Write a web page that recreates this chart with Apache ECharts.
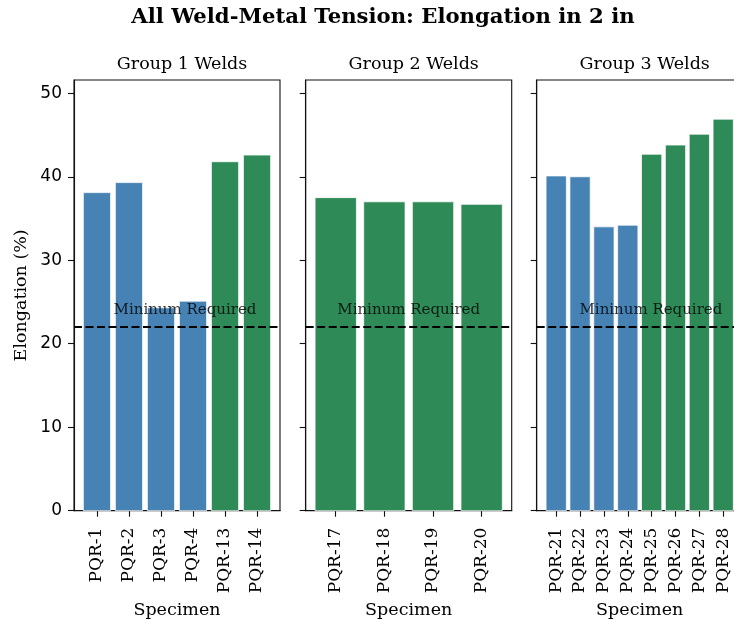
<!DOCTYPE html>
<html>
<head>
<meta charset="utf-8">
<script src="https://cdn.jsdelivr.net/npm/echarts@6/dist/echarts.min.js"></script>
<style>
  html, body { margin: 0; padding: 0; background: #fff; }
  #chart { width: 734px; height: 619px; }
</style>
</head>
<body>
<div id="chart"></div>
<script>
// ---- data: elongation in 2 in (%) for each weld specimen ----
const group1Specimens  = ['PQR-1', 'PQR-2', 'PQR-3', 'PQR-4', 'PQR-13', 'PQR-14'];
const group1Elongation = [38.1, 39.3, 24.3, 25.1, 41.8, 42.6];
const group1Class      = [0, 0, 0, 0, 1, 1];

const group2Specimens  = ['PQR-17', 'PQR-18', 'PQR-19', 'PQR-20'];
const group2Elongation = [37.5, 37.0, 37.0, 36.7];
const group2Class      = [1, 1, 1, 1];

const group3Specimens  = ['PQR-21', 'PQR-22', 'PQR-23', 'PQR-24', 'PQR-25', 'PQR-26', 'PQR-27', 'PQR-28'];
const group3Elongation = [40.1, 40.0, 34.0, 34.2, 42.7, 43.8, 45.1, 46.9];
const group3Class      = [0, 0, 0, 0, 1, 1, 1, 1];

const minimumRequired = 22;
const yTickValues = [0, 10, 20, 30, 40, 50];
const groupTitles = ['Group 1 Welds', 'Group 2 Welds', 'Group 3 Welds'];

// ---- styling / layout ----
const CLASS_COLORS = ['#4682B4', '#2E8B57'];
const SERIF = 'DejaVu Serif';
const SANS = 'DejaVu Sans';
const BAR_W = 0.85;
const PANEL_LEFT = [74, 305.7, 536.7];
const PANEL_W = 206;
const PANEL_TOP = 80;
const PANEL_H = 430.7;
const NOTE_X = [2.75, 1.5, 3.97];
const AXIS_COLOR = '#111';

const panels = [
  { labels: group1Specimens, values: group1Elongation, cls: group1Class },
  { labels: group2Specimens, values: group2Elongation, cls: group2Class },
  { labels: group3Specimens, values: group3Elongation, cls: group3Class }
];

const allValues = [].concat(group1Elongation, group2Elongation, group3Elongation);
const yMax = Math.max.apply(null, allValues) * 1.1;

const grids = [], xAxes = [], yAxes = [], series = [];
const titles = [{
  text: 'All Weld-Metal Tension: Elongation in 2 in',
  left: 378, top: 2, textAlign: 'center',
  textStyle: { fontFamily: SERIF, fontWeight: 'bold', fontSize: 21.2, color: '#000' }
}];

panels.forEach((p, k) => {
  const n = p.labels.length;
  const pad = 0.05 * (n - 1 + BAR_W);
  const idx = p.labels.map((_, i) => i);

  grids.push({
    left: PANEL_LEFT[k], top: PANEL_TOP, width: PANEL_W, height: PANEL_H,
    containLabel: false, outerBoundsMode: 'none',
    show: true, borderColor: AXIS_COLOR, borderWidth: 1.1, backgroundColor: 'transparent'
  });

  titles.push({
    text: groupTitles[k],
    left: PANEL_LEFT[k] + PANEL_W / 2, top: 50, textAlign: 'center',
    textStyle: { fontFamily: SERIF, fontWeight: 'normal', fontSize: 17.5, color: '#000' }
  });

  xAxes.push({
    type: 'value', gridIndex: k,
    min: -BAR_W / 2 - pad, max: n - 1 + BAR_W / 2 + pad,
    splitLine: { show: false },
    axisLine: { show: true, onZero: false, lineStyle: { color: AXIS_COLOR, width: 1.1 } },
    axisTick: { show: true, customValues: idx, length: 6, lineStyle: { color: AXIS_COLOR, width: 1.1 } },
    axisLabel: {
      customValues: idx, rotate: 90, margin: 17,
      formatter: v => p.labels[Math.round(v)],
      fontFamily: SERIF, fontSize: 17, color: '#000'
    },
    name: 'Specimen', nameLocation: 'middle', nameGap: 84,
    nameTextStyle: { fontFamily: SERIF, fontSize: 17.5, color: '#000' }
  });

  yAxes.push({
    type: 'value', gridIndex: k, min: 0, max: yMax,
    splitLine: { show: false },
    axisLine: { show: true, onZero: false, lineStyle: { color: AXIS_COLOR, width: 1.1 } },
    axisTick: { show: true, customValues: yTickValues, length: 6, lineStyle: { color: AXIS_COLOR, width: 1.1 } },
    axisLabel: {
      show: k === 0, customValues: yTickValues, margin: 12,
      fontFamily: SANS, fontSize: 17, color: '#000'
    },
    name: k === 0 ? 'Elongation (%)' : '',
    nameLocation: 'middle', nameGap: 44,
    nameTextStyle: { fontFamily: SERIF, fontSize: 17.5, color: '#000' }
  });

  // bars
  series.push({
    type: 'custom', xAxisIndex: k, yAxisIndex: k,
    data: p.values.map((v, i) => [i, v, p.cls[i]]),
    renderItem: (params, api) => {
      const i = api.value(0), v = api.value(1);
      const a = api.coord([i - BAR_W / 2, v]);
      const b = api.coord([i + BAR_W / 2, 0]);
      return {
        type: 'rect',
        shape: { x: a[0], y: a[1], width: b[0] - a[0], height: b[1] - a[1] },
        style: { fill: CLASS_COLORS[api.value(2)], stroke: 'rgba(255,255,255,0.75)', lineWidth: 1 }
      };
    },
    markLine: {
      silent: true, symbol: ['none', 'none'], animation: false,
      label: { show: false },
      lineStyle: { color: '#000', type: [8, 3.5], width: 1.8 },
      data: [{ yAxis: minimumRequired }]
    },
    z: 2
  });

  // "minimum required" note above the dashed line
  series.push({
    type: 'scatter', xAxisIndex: k, yAxisIndex: k,
    data: [[NOTE_X[k], minimumRequired]],
    symbolSize: 0, silent: true, z: 5,
    label: {
      show: true, position: 'inside', offset: [0, -17],
      formatter: 'Mininum Required',
      fontFamily: SERIF, fontSize: 15, color: '#000'
    }
  });
});

const chart = echarts.init(document.getElementById('chart'), null, { renderer: 'canvas' });
chart.setOption({
  animation: false,
  backgroundColor: '#fff',
  title: titles,
  grid: grids,
  xAxis: xAxes,
  yAxis: yAxes,
  series: series
});
</script>
</body>
</html>
